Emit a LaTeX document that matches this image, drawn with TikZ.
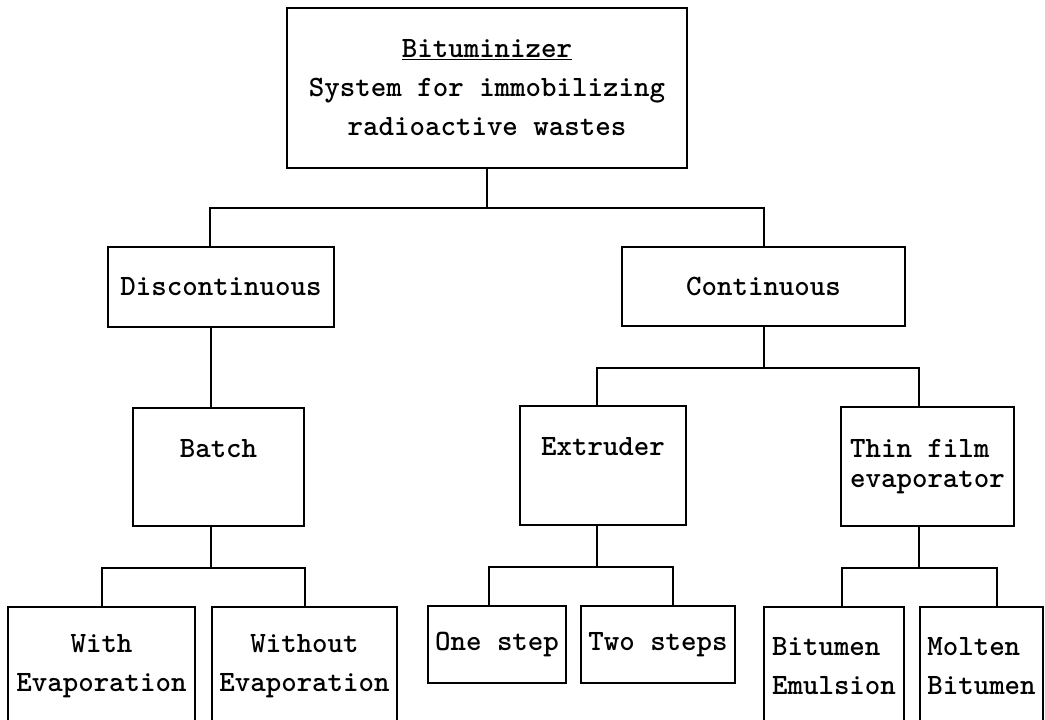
\documentclass[tikz,border=0pt]{standalone}
\begin{document}
\begin{tikzpicture}[
    x=1pt, y=-1pt,
    every node/.append style={font=\ttfamily\bfseries\fontsize{29.5}{39}\selectfont},
    box/.style={rectangle, draw=black, line width=2pt, inner sep=0pt},
    upper/.style={text height=20pt, text depth=40pt},
    link/.style={line width=2pt}
]
    \useasboundingbox (0,0) rectangle (1045,720);
    \clip (0,0) rectangle (1045,720);

    % Nodos del arbol
    \node[box, minimum width=400pt, minimum height=160pt, align=center] (system) at (487,88)
        {\underline{Bituminizer}\\System for immobilizing\\radioactive wastes};
    \node[box, minimum width=226pt, minimum height=80pt] (disc) at (221,287) {Discontinuous};
    \node[box, minimum width=283pt, minimum height=79pt] (cont) at (763.5,286.5) {Continuous};
    \node[box, upper, minimum width=171pt, minimum height=118pt] (batch) at (218.5,467) {Batch};
    \node[box, upper, minimum width=166pt, minimum height=119pt] (extr) at (603,465.5) {Extruder};
    \node[box, minimum width=173pt, minimum height=119pt, align=left] (thin) at (927.5,466.5)
        {Thin film\\[-9pt]evaporator};
    \node[box, minimum width=187pt, minimum height=118pt, align=center] (withev) at (101.5,666)
        {With\\Evaporation};
    \node[box, minimum width=185pt, minimum height=118pt, align=center] (without) at (304.5,666)
        {Without\\Evaporation};
    \node[box, minimum width=138pt, minimum height=77pt] (one) at (497,644.5) {One step};
    \node[box, minimum width=154pt, minimum height=77pt] (two) at (658,644.5) {Two steps};
    \node[box, minimum width=140pt, minimum height=118pt, align=left] (emul) at (834,666)
        {Bitumen\\Emulsion};
    \node[box, minimum width=123pt, minimum height=118pt, align=left] (molten) at (981.5,666)
        {Molten\\Bitumen};

    % Conexiones
    \draw[link] (system.south) -- ++(0,39) -| ([xshift=-11pt]disc.north);
    \draw[link] (system.south) -- ++(0,39) -| (cont.north);
    \draw[link] ([xshift=-10pt]disc.south) -- ([xshift=-7.5pt]batch.north);
    \draw[link] ([xshift=-7.5pt]batch.south) -- ++(0,41) -| (withev.north);
    \draw[link] ([xshift=-7.5pt]batch.south) -- ++(0,41) -| (without.north);
    \draw[link] (cont.south) -- ++(0,40.5) -| ([xshift=-6pt]extr.north);
    \draw[link] (cont.south) -- ++(0,40.5) -| ([xshift=-8.5pt]thin.north);
    \draw[link] ([xshift=-6pt]extr.south) -- ++(0,41) -| ([xshift=-8pt]one.north);
    \draw[link] ([xshift=-6pt]extr.south) -- ++(0,41) -| ([xshift=15pt]two.north);
    \draw[link] ([xshift=-8.5pt]thin.south) -- ++(0,41) -| ([xshift=8pt]emul.north);
    \draw[link] ([xshift=-8.5pt]thin.south) -- ++(0,41) -| ([xshift=15.5pt]molten.north);
\end{tikzpicture}
\end{document}
